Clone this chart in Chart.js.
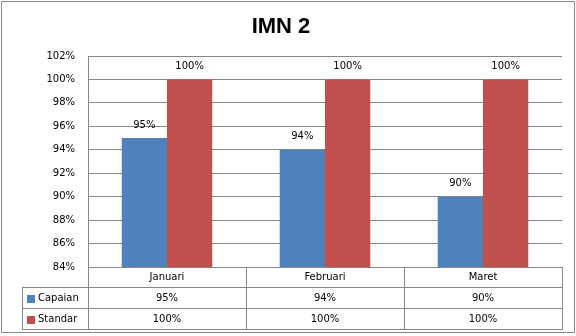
<!DOCTYPE html>
<html>
<head>
<meta charset="utf-8">
<script src="https://cdn.jsdelivr.net/npm/chart.js@4"></script>
<style>
  html, body { margin: 0; padding: 0; background: #fff; }
  canvas { display: block; }
</style>
</head>
<body>
<canvas id="chart" width="576" height="336"></canvas>
<script>
const months = ['Januari', 'Februari', 'Maret'];
const capaian = [95, 94, 90];
const standar = [100, 100, 100];
const seriesNames = ['Capaian', 'Standar'];
const seriesColors = ['#4F81BD', '#C0504D'];

const FONT = 'DejaVu Sans';
const LINE = '#868686';

// value labels above each bar
const barLabels = {
    id: 'barLabels',
    afterDatasetsDraw(chart) {
        const ctx = chart.ctx;
        ctx.save();
        ctx.font = '10px "' + FONT + '"';
        ctx.fillStyle = '#000';
        ctx.textAlign = 'center';
        ctx.textBaseline = 'middle';
        chart.data.datasets.forEach((ds, i) => {
            chart.getDatasetMeta(i).data.forEach((bar, j) => {
                ctx.fillText(ds.data[j] + '%', bar.x, bar.y - 13);
            });
        });
        ctx.restore();
    }
};

// data table under the plot + outer frame
const dataTable = {
    id: 'dataTable',
    afterDraw(chart) {
        const ctx = chart.ctx;
        const area = chart.chartArea;
        const x = chart.scales.x;
        const top = area.bottom;
        const rows = [top, top + 20, top + 41, top + 62];
        const legendLeft = 22;
        const colW = (area.right - area.left) / months.length;
        ctx.save();
        ctx.strokeStyle = LINE;
        ctx.lineWidth = 1;
        ctx.beginPath();
        // horizontal lines
        ctx.moveTo(area.left, rows[0] + 0.5); ctx.lineTo(area.right, rows[0] + 0.5);
        for (let r = 1; r < rows.length; r++) {
            ctx.moveTo(legendLeft, rows[r] + 0.5); ctx.lineTo(area.right, rows[r] + 0.5);
        }
        // vertical lines
        for (let c = 0; c <= months.length; c++) {
            const px = Math.round(area.left + c * colW) + 0.5;
            ctx.moveTo(px, rows[0]); ctx.lineTo(px, rows[3] + 1);
        }
        ctx.moveTo(legendLeft + 0.5, rows[1]); ctx.lineTo(legendLeft + 0.5, rows[3] + 1);
        // outer frame
        ctx.rect(1.5, 1.5, 573, 331);
        ctx.stroke();

        ctx.font = '10px "' + FONT + '"';
        ctx.textBaseline = 'middle';
        const series = [capaian, standar];
        series.forEach((vals, s) => {
            const cy = (rows[s + 1] + rows[s + 2]) / 2 + 1;
            ctx.fillStyle = seriesColors[s];
            ctx.fillRect(27, Math.round(cy) - 4, 8, 8);
            ctx.fillStyle = '#000';
            ctx.textAlign = 'left';
            ctx.fillText(seriesNames[s], 38, cy);
            ctx.textAlign = 'center';
            vals.forEach((v, j) => ctx.fillText(v + '%', x.getPixelForValue(j), cy));
        });
        ctx.restore();
    }
};

new Chart(document.getElementById('chart'), {
    type: 'bar',
    data: {
        labels: months,
        datasets: [
            { label: seriesNames[0], data: capaian, backgroundColor: seriesColors[0] },
            { label: seriesNames[1], data: standar, backgroundColor: seriesColors[1] }
        ]
    },
    options: {
        responsive: false,
        animation: false,
        layout: { padding: { left: 0, right: 14, top: 0, bottom: 49 } },
        datasets: { bar: { categoryPercentage: 0.573, barPercentage: 1 } },
        plugins: {
            legend: { display: false },
            tooltip: { enabled: false },
            title: {
                display: true,
                text: 'IMN 2',
                color: '#000',
                font: { family: 'Liberation Sans', size: 22, weight: 'bold', lineHeight: 1.2 },
                padding: { top: 13.5, bottom: 16.1 }
            }
        },
        scales: {
            x: {
                grid: { display: false, drawTicks: false },
                border: { display: false },
                ticks: { color: '#000', padding: 4, font: { family: FONT, size: 10 } },
                afterFit: s => { s.height = 20; }
            },
            y: {
                min: 84, max: 102,
                grid: { color: LINE, drawTicks: false },
                border: { display: true, color: LINE },
                ticks: {
                    stepSize: 2, color: '#000', padding: 13,
                    font: { family: FONT, size: 10 },
                    callback: v => v + '%'
                },
                afterFit: s => { s.width = 88; }
            }
        }
    },
    plugins: [barLabels, dataTable]
});
</script>
</body>
</html>
